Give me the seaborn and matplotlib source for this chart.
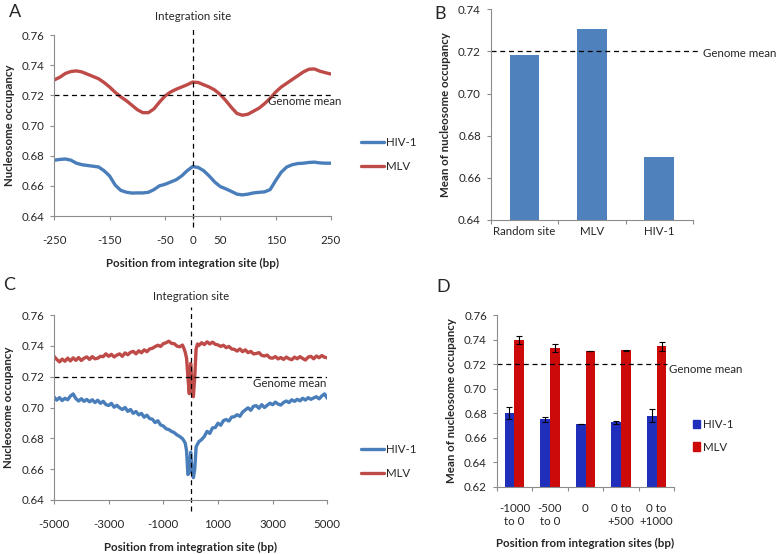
import numpy as np
import pandas as pd
import seaborn as sns
import matplotlib.pyplot as plt
from matplotlib.patches import Patch

# ---------------- data ----------------
# Panel A: +/-250 bp around integration sites
pos_a = list(range(-250, 251, 10))
hiv_a = [0.6770, 0.6775, 0.6778, 0.6770, 0.6750, 0.6740, 0.6735, 0.6730, 0.6725, 0.6700,
         0.6665, 0.6605, 0.6570, 0.6558, 0.6552, 0.6553, 0.6553, 0.6557, 0.6575, 0.6600,
         0.6610, 0.6625, 0.6640, 0.6665, 0.6700, 0.6728, 0.6722, 0.6700, 0.6665, 0.6625,
         0.6595, 0.6580, 0.6563, 0.6545, 0.6540, 0.6545, 0.6553, 0.6557, 0.6560, 0.6575,
         0.6635, 0.6690, 0.6725, 0.6740, 0.6748, 0.6750, 0.6755, 0.6757, 0.6752, 0.6750,
         0.6750]
mlv_a = [0.7302, 0.7320, 0.7345, 0.7358, 0.7362, 0.7355, 0.7340, 0.7325, 0.7310, 0.7285,
         0.7255, 0.7220, 0.7190, 0.7165, 0.7135, 0.7105, 0.7085, 0.7085, 0.7110, 0.7155,
         0.7195, 0.7222, 0.7240, 0.7255, 0.7270, 0.7288, 0.7285, 0.7270, 0.7255, 0.7235,
         0.7205, 0.7165, 0.7120, 0.7080, 0.7068, 0.7075, 0.7095, 0.7115, 0.7145, 0.7180,
         0.7222, 0.7255, 0.7280, 0.7305, 0.7330, 0.7355, 0.7373, 0.7375, 0.7360, 0.7350,
         0.7341]

# Panel B
sites_b = ['Random site', 'MLV', 'HIV-1']
mean_b = [0.7185, 0.7308, 0.6700]

# Panel C: +/-5000 bp (finer near the site)
pos_c = (list(range(-5000, -399, 100)) + list(range(-300, 301, 50))
         + list(range(400, 5001, 100)))
mlv_c = [0.7332, 0.7312, 0.7296, 0.7314, 0.7300, 0.7320, 0.7302, 0.7322, 0.7306, 0.7324,
         0.7305, 0.7320, 0.7328, 0.7312, 0.7330, 0.7316, 0.7320, 0.7332, 0.7330, 0.7348,
         0.7332, 0.7345, 0.7328, 0.7340, 0.7348, 0.7332, 0.7354, 0.7342, 0.7358, 0.7364,
         0.7348, 0.7368, 0.7355, 0.7374, 0.7362, 0.7380, 0.7384, 0.7395, 0.7404, 0.7396,
         0.7414, 0.7420, 0.7430, 0.7416, 0.7414, 0.7398, 0.7394,
         0.7405, 0.7385, 0.7360, 0.7320, 0.7200, 0.7090, 0.7285, 0.7150, 0.7070, 0.7200,
         0.7380, 0.7412, 0.7402,
         0.7420, 0.7408, 0.7426, 0.7412, 0.7424, 0.7410, 0.7406, 0.7396, 0.7404, 0.7388,
         0.7396, 0.7380, 0.7377, 0.7366, 0.7380, 0.7362, 0.7374, 0.7356, 0.7364, 0.7348,
         0.7350, 0.7356, 0.7338, 0.7334, 0.7340, 0.7322, 0.7320, 0.7330, 0.7315, 0.7324,
         0.7312, 0.7327, 0.7316, 0.7310, 0.7327, 0.7316, 0.7330, 0.7318, 0.7308, 0.7327,
         0.7332, 0.7316, 0.7334, 0.7323, 0.7337, 0.7326, 0.7322]
hiv_c = [0.7068, 0.7048, 0.7064, 0.7045, 0.7060, 0.7050, 0.7074, 0.7088, 0.7058, 0.7042,
         0.7057, 0.7040, 0.7052, 0.7037, 0.7050, 0.7032, 0.7047, 0.7027, 0.7040, 0.7019,
         0.7013, 0.7027, 0.7002, 0.7014, 0.6998, 0.6987, 0.7000, 0.6975, 0.6987, 0.6962,
         0.6974, 0.6952, 0.6962, 0.6937, 0.6950, 0.6928, 0.6924, 0.6902, 0.6914, 0.6887,
         0.6880, 0.6862, 0.6857, 0.6845, 0.6837, 0.6822, 0.6812,
         0.6798, 0.6785, 0.6770, 0.6720, 0.6565, 0.6580, 0.6710, 0.6590, 0.6545, 0.6600,
         0.6745, 0.6762, 0.6778,
         0.6792, 0.6812, 0.6845, 0.6832, 0.6868, 0.6870, 0.6898, 0.6885, 0.6915, 0.6922,
         0.6912, 0.6938, 0.6940, 0.6953, 0.6943, 0.6970, 0.6984, 0.6998, 0.6982, 0.7008,
         0.7012, 0.6995, 0.7018, 0.7000, 0.7014, 0.7028, 0.7018, 0.7035, 0.7022, 0.7016,
         0.7033, 0.7042, 0.7032, 0.7050, 0.7040, 0.7053, 0.7043, 0.7060, 0.7048, 0.7064,
         0.7053, 0.7062, 0.7070, 0.7056, 0.7075, 0.7088, 0.7060]

# Panel D
bins_d = ['-1000\nto 0', '-500\nto 0', '0', '0 to\n+500', '0 to\n+1000']
hiv_d = [0.6800, 0.6750, 0.6715, 0.6725, 0.6780]
hiv_d_err = [0.0050, 0.0020, 0.0000, 0.0010, 0.0050]
mlv_d = [0.7395, 0.7330, 0.7305, 0.7312, 0.7345]
mlv_d_err = [0.0035, 0.0035, 0.0000, 0.0005, 0.0035]

genome_mean = 0.72

# ---------------- style ----------------
sns.set_style('white')
plt.rcParams['font.family'] = ['Lato', 'DejaVu Sans']
fs = 8.3
plt.rcParams['font.size'] = fs

line_colors = {'HIV-1': '#4a7ebb', 'MLV': '#be4b48'}
bar_colors = {'HIV-1': '#1f2fbb', 'MLV': '#cc0a0a'}
spine_col = '#8c8c8c'

fig = plt.figure(figsize=(7.78, 5.54), dpi=100)


def box(l, t, r, b):
    # pixel box -> figure fraction
    return [l / 778, 1 - b / 554, (r - l) / 778, (b - t) / 554]


def style(ax, xpad=4):
    sns.despine(ax=ax)
    for s in ['left', 'bottom']:
        ax.spines[s].set_color(spine_col)
        ax.spines[s].set_linewidth(0.8)
    ax.tick_params(axis='y', length=3, width=0.8, color=spine_col, pad=4,
                   labelsize=fs, left=True)
    ax.tick_params(axis='x', length=3, width=0.8, color=spine_col, pad=xpad,
                   labelsize=fs, bottom=True)


def line_panel(ax, pos, hiv, mlv, xticks, xlim, legend_top):
    df = pd.DataFrame({'pos': pos + pos, 'occ': hiv + mlv,
                       'virus': ['HIV-1'] * len(pos) + ['MLV'] * len(pos)})
    sns.lineplot(data=df, x='pos', y='occ', hue='virus', palette=line_colors,
                 linewidth=2.4, ax=ax)
    ax.axhline(genome_mean, color='black', lw=0.9, ls=(0, (4, 3)))
    ax.axvline(0, ymin=-0.06, ymax=1.045, color='black', lw=0.9,
               ls=(0, (4, 3)), clip_on=False)
    ax.set_xlim(*xlim)
    ax.set_ylim(0.64, 0.76)
    ax.set_yticks(np.arange(0.64, 0.761, 0.02))
    ax.set_yticklabels([f'{v:.2f}' for v in np.arange(0.64, 0.761, 0.02)])
    ax.set_xticks(xticks)
    ax.set_xticklabels([str(t) for t in xticks])
    ax.set_xlabel('Position from integration site (bp)', fontsize=fs,
                  fontweight='bold', labelpad=8)
    ax.set_ylabel('Nucleosome occupancy', fontsize=fs, fontweight='bold', labelpad=5)
    style(ax, xpad=11)
    ax.text(0, 1.1, 'Integration site', transform=ax.get_xaxis_transform(),
            ha='center', va='center', fontsize=fs)
    h, l = ax.get_legend_handles_labels()
    ax.legend(h, l, loc='upper left', bbox_to_anchor=(361 / 778, 1 - legend_top / 554),
              bbox_transform=fig.transFigure, frameon=False, fontsize=fs,
              handlelength=2.0, handletextpad=0.2, labelspacing=1.1,
              borderpad=0, borderaxespad=0)


# ---------------- A ----------------
ax_a = fig.add_axes(box(54.3, 35, 331, 216))
line_panel(ax_a, pos_a, hiv_a, mlv_a, [-250, -150, -50, 0, 50, 150, 250],
           (-250, 250), 137)
ax_a.text(136, 0.7193, 'Genome mean', ha='left', va='top', fontsize=fs)

# ---------------- C ----------------
ax_c = fig.add_axes(box(54, 315, 327.3, 500))
line_panel(ax_c, pos_c, hiv_c, mlv_c, [-5000, -3000, -1000, 1000, 3000, 5000],
           (-5000, 5000), 444)
ax_c.text(4950, 0.7193, 'Genome mean', ha='right', va='top', fontsize=fs)

# ---------------- B ----------------
ax_b = fig.add_axes(box(490.7, 9.3, 693, 220))
sns.barplot(x=sites_b, y=mean_b, color='#4f81bd', saturation=1, width=0.44,
            linewidth=0, ax=ax_b)
ax_b.set_ylim(0.64, 0.74)
ax_b.set_yticks(np.arange(0.64, 0.741, 0.02))
ax_b.set_yticklabels([f'{v:.2f}' for v in np.arange(0.64, 0.741, 0.02)])
ax_b.plot([0, 1.025], [genome_mean, genome_mean], color='black', lw=0.9,
          ls=(0, (4, 3)), transform=ax_b.get_yaxis_transform(), clip_on=False)
ax_b.text(1.05, 0.7192, 'Genome mean', transform=ax_b.get_yaxis_transform(),
          ha='left', va='center', fontsize=fs)
ax_b.set_ylabel('Mean of nucleosome occupancy', fontsize=fs, fontweight='bold',
                labelpad=5)
style(ax_b, xpad=4)
ax_b.set_xticks([-0.5, 0.5, 1.5, 2.5], minor=True)
ax_b.tick_params(axis='x', which='major', length=0)
ax_b.tick_params(axis='x', which='minor', length=3, width=0.8, color=spine_col,
                 bottom=True)
ax_b.set_xlim(-0.5, 2.5)

# ---------------- D ----------------
ax_d = fig.add_axes(box(496.7, 315, 674.3, 486.7))
df_d = pd.DataFrame({'bin': bins_d + bins_d, 'occ': hiv_d + mlv_d,
                     'virus': ['HIV-1'] * 5 + ['MLV'] * 5})
sns.barplot(data=df_d, x='bin', y='occ', hue='virus', palette=bar_colors,
            saturation=1, width=0.56, linewidth=0, errorbar=None, ax=ax_d)
for cont, errs in zip(ax_d.containers, [hiv_d_err, mlv_d_err]):
    for bar, e in zip(cont, errs):
        ax_d.errorbar(bar.get_x() + bar.get_width() / 2, bar.get_height(), yerr=e,
                      fmt='none', ecolor='black', elinewidth=0.8, capsize=2.2,
                      capthick=0.8)
ax_d.set_ylim(0.62, 0.76)
ax_d.set_yticks(np.arange(0.62, 0.761, 0.02))
ax_d.set_yticklabels([f'{v:.2f}' for v in np.arange(0.62, 0.761, 0.02)])
ax_d.plot([0, 0.96], [genome_mean, genome_mean], color='black', lw=0.9,
          ls=(0, (4, 3)), transform=ax_d.get_yaxis_transform())
ax_d.text(0.97, 0.7197, 'Genome mean', transform=ax_d.get_yaxis_transform(),
          ha='left', va='top', fontsize=fs)
ax_d.set_xlabel('Position from integration sites (bp)', fontsize=fs,
                fontweight='bold', labelpad=8)
ax_d.set_ylabel('Mean of nucleosome occupancy', fontsize=fs, fontweight='bold',
                labelpad=5)
style(ax_d, xpad=12)
ax_d.set_xticks([-0.5, 0.5, 1.5, 2.5, 3.5, 4.5], minor=True)
ax_d.tick_params(axis='x', which='major', length=0)
ax_d.tick_params(axis='x', which='minor', length=3, width=0.8, color=spine_col,
                 bottom=True)
ax_d.set_xlim(-0.5, 4.5)
ax_d.legend([Patch(color=bar_colors['HIV-1']), Patch(color=bar_colors['MLV'])],
            ['HIV-1', 'MLV'], loc='upper left',
            bbox_to_anchor=(693 / 778, 1 - 419 / 554), bbox_transform=fig.transFigure,
            frameon=False, fontsize=fs, handlelength=0.6, handleheight=0.7,
            handletextpad=0.3, labelspacing=1.0, borderpad=0, borderaxespad=0)

# panel letters
for letter, x, y in [('A', 9, 4), ('B', 434, 6), ('C', 3, 277), ('D', 436, 279)]:
    fig.text(x / 778, 1 - y / 554, letter, fontsize=13, ha='left', va='top')

fig.savefig('out.png', dpi=100)
